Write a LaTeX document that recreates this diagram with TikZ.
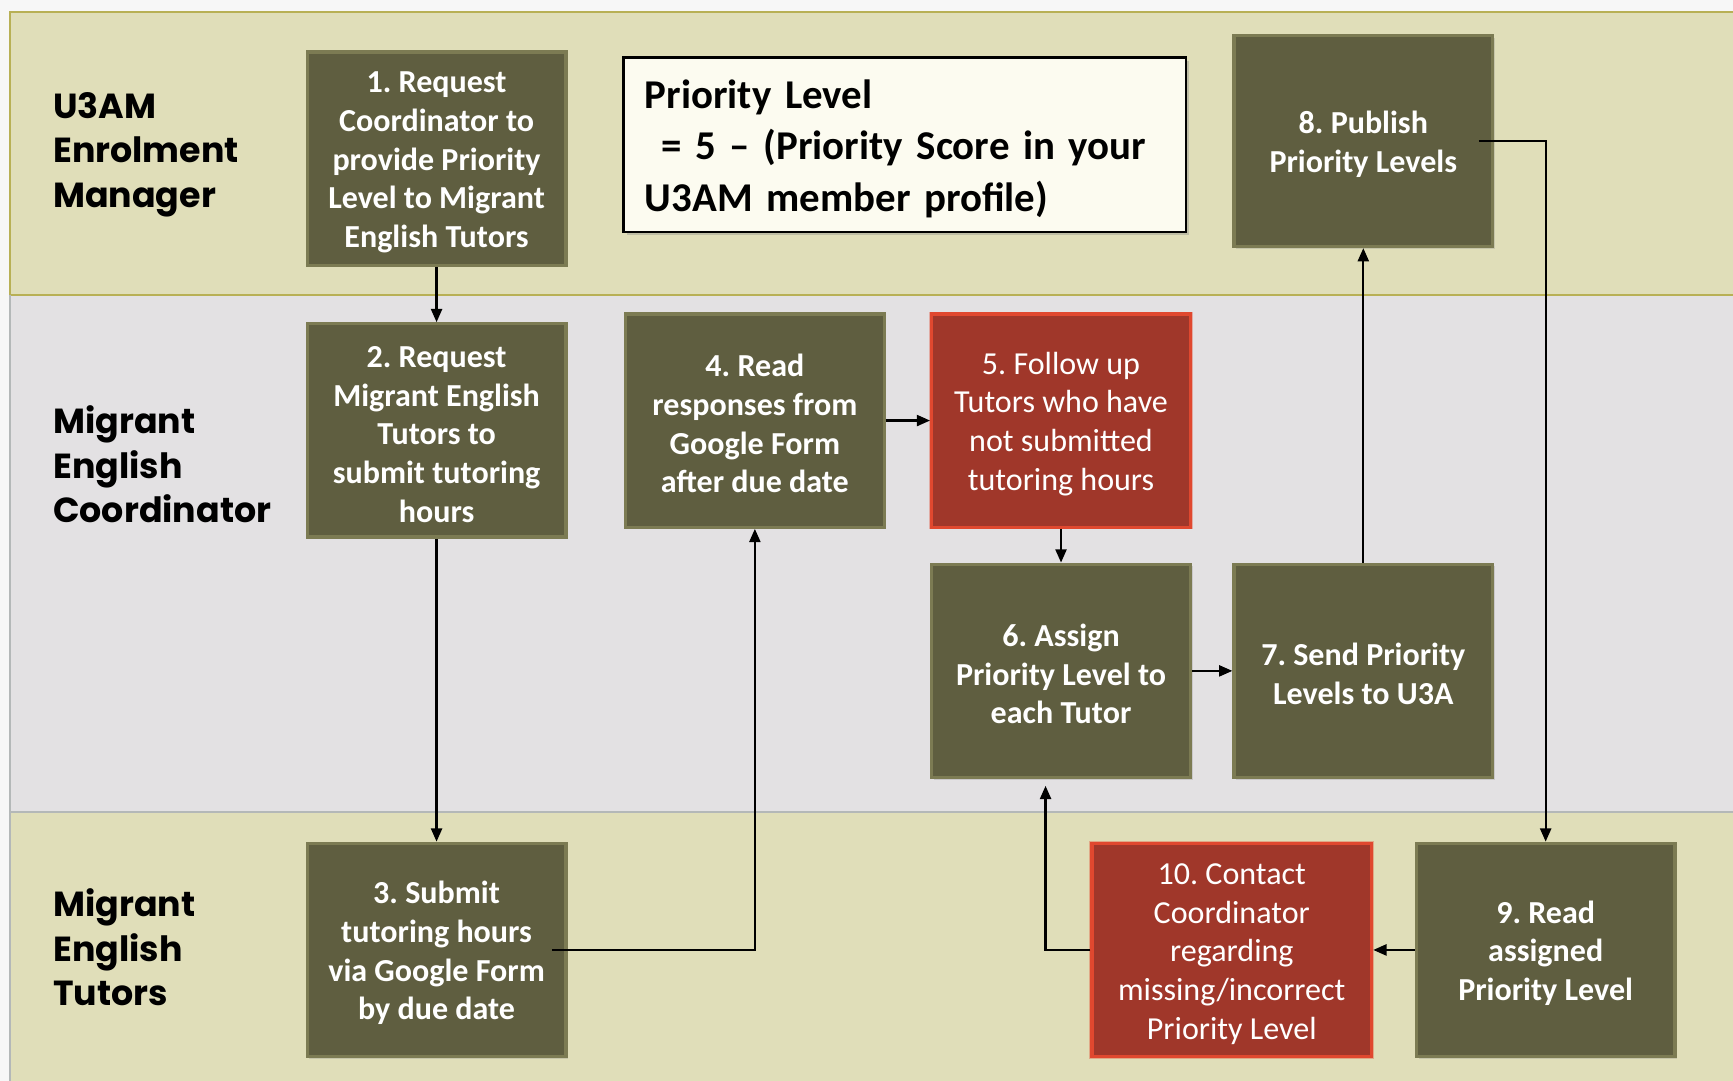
\documentclass[tikz,border=0pt]{standalone}
\usepackage{fontspec}
\setmainfont{Carlito}
\newfontfamily\lanefont{Poppins}
\usetikzlibrary{arrows.meta,shadows}
\definecolor{tanlane}{HTML}{E0DEB9}
\definecolor{tanline}{HTML}{B8B055}
\definecolor{graylane}{HTML}{E3E1E3}
\definecolor{grayline}{HTML}{B4B8B8}
\definecolor{olive}{HTML}{5F5E40}
\definecolor{oliveedge}{HTML}{7C7B53}
\definecolor{redfill}{HTML}{A0372A}
\definecolor{rededge}{HTML}{E0482F}
\definecolor{notefill}{HTML}{FCFBF0}
\newcommand\tf{\rule{0pt}{26pt}}
\newcommand\tfn{\rule{0pt}{33pt}}
\begin{document}
\frenchspacing
\begin{tikzpicture}[x=1pt,y=-1pt,
  olivebox/.style={draw=oliveedge, line width=3pt, fill=olive, text=white,
    font=\bfseries\fontsize{29}{35}\selectfont, align=center,
    minimum width=234pt, minimum height=193pt, inner sep=0pt,
    drop shadow={shadow xshift=2pt, shadow yshift=-2pt, opacity=0.25}},
  redbox/.style={draw=rededge, line width=3pt, fill=redfill, text=white,
    font=\fontsize{29}{35}\selectfont, align=center,
    minimum width=234pt, minimum height=193pt, inner sep=0pt,
    drop shadow={shadow xshift=0pt, shadow yshift=0pt, shadow scale=1.02, fill=rededge, opacity=0.35}},
  lanelabel/.style={anchor=west, align=left, inner sep=0pt,
    font=\lanefont\bfseries\fontsize{31.5}{40.5}\selectfont, text=black},
  arr/.style={line width=2pt, -{Triangle[length=12pt,width=10pt]}}
]
\useasboundingbox (0,0) rectangle (1568,978);
% background and lanes
\fill[white!94!gray] (0,0) rectangle (1568,978);
\fill[tanlane] (9,11) rectangle (1568,267);
\fill[graylane] (9,267) rectangle (1568,735);
\fill[tanlane] (9,735) rectangle (1568,978);
\draw[tanline, line width=1.5pt] (1568,11) -- (9,11) -- (9,267);
\draw[tanline, line width=1.5pt] (9,267) -- (1568,267);
\draw[grayline, line width=2pt] (9,267) -- (9,978);
\draw[grayline, line width=2pt] (9,735) -- (1568,735);

% lane labels
\node[lanelabel] (l1) at (48,140) {U3AM\\Enrolment\\Manager};
\node[lanelabel] (l2) at (48,420) {Migrant\\English\\Coordinator};
\node[lanelabel] (l3) at (48,857) {Migrant\\English\\Tutors};

% note
\node[draw=black, line width=2.5pt, fill=notefill, minimum width=509pt, minimum height=158pt,
  text width=470pt, inner xsep=19pt, align=left, font=\bfseries\fontsize{37}{46.5}\selectfont,
  drop shadow={shadow xshift=3pt, shadow yshift=-3pt, opacity=0.35}]
  (note) at (818.5,131) {\tfn Priority Level\\\hspace*{15pt}= 5 – (Priority Score in your\\U3AM member profile)};

% boxes
\node[olivebox] (b1) at (395,143.5) {\tf 1. Request\\Coordinator to\\provide Priority\\Level to Migrant\\English Tutors};
\node[olivebox] (b2) at (395,389.5) {\tf 2. Request\\Migrant English\\Tutors to\\submit tutoring\\hours};
\node[olivebox] (b3) at (395,859.5) {\tf 3. Submit\\tutoring hours\\via Google Form\\by due date};
\node[olivebox] (b4) at (683,380.5) {\tf 4. Read\\responses from\\Google Form\\after due date};
\node[redbox] (b5) at (960,380.5) {\tf 5. Follow up\\Tutors who have\\not submitted\\tutoring hours};
\node[olivebox] (b6) at (960,607) {\tf 6. Assign\\Priority Level to\\each Tutor};
\node[olivebox] (b7) at (1233.5,607) {\tf 7. Send Priority\\Levels to U3A};
\node[olivebox, minimum height=191pt] (b8) at (1233.5,127.5) {\tf 8. Publish\\Priority Levels};
\node[olivebox] (b9) at (1398.5,859.5) {\tf 9. Read\\assigned\\Priority Level};
\node[redbox, minimum width=253pt] (b10) at (1114.5,859.5) {\tf 10. Contact\\Coordinator\\regarding\\missing/incorrect\\Priority Level};

% connectors
\coordinate (c6) at ([xshift=-14pt]b6.south);
\draw[arr] (b1.south) -- (b2.north);
\draw[arr] (b2.south) -- (b3.north);
\draw[arr] ([xshift=-14pt]b3.east) -- (b3.east -| b4.south) -- (b4.south);
\draw[arr] (b4.east) -- (b5.west);
\draw[arr] (b5.south) -- (b6.north);
\draw[arr] (b6.east) -- (b7.west);
\draw[arr] (b7.north) -- (b8.south);
\draw[arr] ([xshift=-14pt]b8.east) -- (b8.east -| b9.north) -- (b9.north);
\draw[arr] (b9.west) -- (b10.east);
\draw[arr, shorten >=6pt] (b10.west) -- (b10.west -| c6) -- (c6);
\end{tikzpicture}
\end{document}
